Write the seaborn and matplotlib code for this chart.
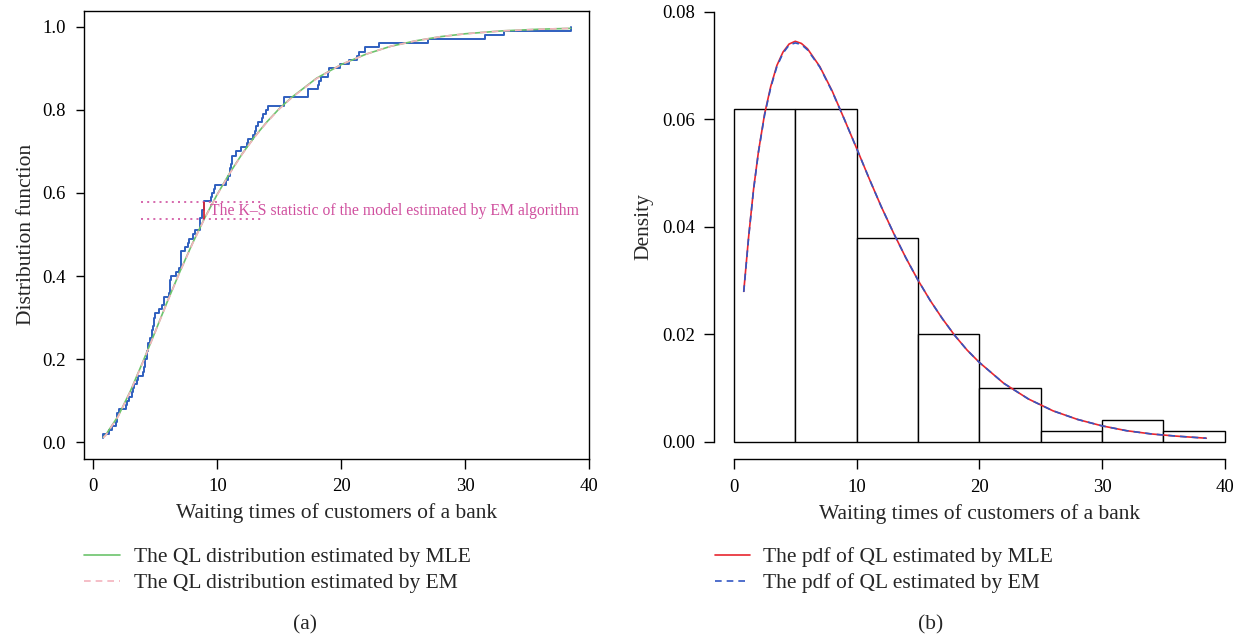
import numpy as np
import pandas as pd
import matplotlib
matplotlib.use("Agg")
import matplotlib.pyplot as plt
import seaborn as sns

# waiting times (min) of 100 bank customers
waiting_times = [0.8, 0.8, 1.3, 1.5, 1.8, 1.9, 1.9, 2.1, 2.6, 2.7, 2.9, 3.1, 3.2, 3.3, 3.5,
                 3.6, 4.0, 4.1, 4.2, 4.2, 4.3, 4.3, 4.4, 4.4, 4.6, 4.7, 4.7, 4.8, 4.9, 4.9,
                 5.0, 5.3, 5.5, 5.7, 5.7, 6.1, 6.2, 6.2, 6.2, 6.3, 6.7, 6.9, 7.1, 7.1, 7.1,
                 7.1, 7.4, 7.6, 7.7, 8.0, 8.2, 8.6, 8.6, 8.6, 8.8, 8.8, 8.9, 8.9, 9.5, 9.6,
                 9.7, 9.8, 10.7, 10.9, 11.0, 11.0, 11.1, 11.2, 11.2, 11.5, 11.9, 12.4, 12.5,
                 12.9, 13.0, 13.1, 13.3, 13.6, 13.7, 13.9, 14.1, 15.4, 15.4, 17.3, 17.3,
                 18.1, 18.2, 18.4, 18.9, 19.0, 19.9, 20.6, 21.3, 21.4, 21.9, 23.0, 27.0,
                 31.6, 33.1, 38.5]

# fitted QL distribution function
cdf_x = [0.8, 1, 2, 3, 4, 5, 6, 7, 8, 9, 10, 11, 12, 13, 14, 15, 16, 18, 20, 22, 24,
         26, 28, 30, 33, 36, 38.5]
cdf_mle = [0.012, 0.018, 0.063, 0.124, 0.194, 0.267, 0.341, 0.412, 0.479, 0.541, 0.597,
           0.648, 0.694, 0.735, 0.771, 0.803, 0.830, 0.876, 0.909, 0.934, 0.953, 0.966,
           0.976, 0.983, 0.990, 0.994, 0.996]
cdf_em = [0.011, 0.017, 0.062, 0.123, 0.193, 0.266, 0.340, 0.411, 0.478, 0.540, 0.596,
          0.647, 0.693, 0.734, 0.770, 0.802, 0.829, 0.875, 0.909, 0.934, 0.953, 0.966,
          0.976, 0.983, 0.990, 0.994, 0.996]

# K-S statistic marker
ks_x = 8.9
ks_low = 0.537
ks_high = 0.579
ks_span = [3.85, 13.7]

# histogram (density per bin)
bin_edges = [0, 5, 10, 15, 20, 25, 30, 35, 40]
bin_density = [0.062, 0.062, 0.038, 0.020, 0.010, 0.002, 0.004, 0.002]

# fitted QL pdf
pdf_x = [0.8, 1.2, 1.6, 2.0, 2.5, 3.0, 3.5, 4.0, 4.5, 5.0, 5.5, 6.0, 7, 8, 9, 10, 11, 12,
         13, 14, 15, 16, 17, 18, 19, 20, 22, 24, 26, 28, 30, 32, 34, 36, 38.5]
pdf_mle = [0.0280, 0.0382, 0.0470, 0.0540, 0.0610, 0.0661, 0.0700, 0.0725, 0.0740, 0.0745,
           0.0741, 0.0731, 0.0698, 0.0653, 0.0600, 0.0546, 0.0491, 0.0438, 0.0389, 0.0343,
           0.0301, 0.0263, 0.0229, 0.0198, 0.0171, 0.0148, 0.0109, 0.0080, 0.0058, 0.0042,
           0.0030, 0.0021, 0.0015, 0.0011, 0.0007]
pdf_em = [0.0279, 0.0381, 0.0469, 0.0539, 0.0608, 0.0659, 0.0698, 0.0723, 0.0738, 0.0742,
          0.0739, 0.0729, 0.0697, 0.0652, 0.0600, 0.0546, 0.0491, 0.0438, 0.0389, 0.0343,
          0.0301, 0.0263, 0.0229, 0.0198, 0.0171, 0.0148, 0.0109, 0.0080, 0.0058, 0.0042,
          0.0030, 0.0021, 0.0015, 0.0011, 0.0007]

sns.set_theme(style="ticks")
LFS = 15.5   # labels / legend
TFS = 13.5   # tick labels
plt.rcParams["font.family"] = ["Liberation Serif", "DejaVu Serif"]
plt.rcParams["font.size"] = LFS
plt.rcParams["xtick.labelsize"] = TFS
plt.rcParams["ytick.labelsize"] = TFS
plt.rcParams["axes.labelsize"] = LFS
plt.rcParams["legend.fontsize"] = LFS
plt.rcParams["axes.linewidth"] = 1.0
plt.rcParams["axes.edgecolor"] = "black"
for a in ["x", "y"]:
    plt.rcParams[a + "tick.major.size"] = 7
    plt.rcParams[a + "tick.major.width"] = 1.0
    plt.rcParams[a + "tick.color"] = "black"

W, H = 1241, 640
fig = plt.figure(figsize=(W / 100, H / 100), dpi=100)

# ---- panel (a): empirical vs fitted distribution function
ax1 = fig.add_axes([84.3 / W, 1 - 458.7 / H, 505 / W, 448 / H])
times_sorted = np.sort(np.array(waiting_times))
ecdf = pd.DataFrame({"x": times_sorted, "F": np.arange(1, len(times_sorted) + 1) / len(times_sorted)})
sns.lineplot(data=ecdf, x="x", y="F", estimator=None, drawstyle="steps-post",
             color="#2f5fbf", lw=1.4, ax=ax1)
sns.lineplot(x=cdf_x, y=cdf_mle, color="#6cc46c", lw=1.2, ax=ax1,
             label="The QL distribution estimated by MLE")
sns.lineplot(x=cdf_x, y=cdf_em, color="#f4b3bd", lw=1.2, ax=ax1,
             label="The QL distribution estimated by EM")
ax1.lines[-1].set_dashes((4, 3))

ax1.hlines([ks_high, ks_low], ks_span[0], ks_span[1], colors="#d0509f",
           linestyles=(0, (1.2, 2.5)), lw=1.2)
ax1.vlines(ks_x, ks_low, ks_high, colors="#d42a3a", lw=1.3)
ax1.text(9.4, 0.557,
         "The K\u2013S statistic of the model estimated by EM algorithm",
         color="#d0509f", va="center", ha="left", fontsize=11.3)

ax1.set_xlim(-0.73, 40)
ax1.set_ylim(-0.0395, 1.0385)
ax1.set_xticks([0, 10, 20, 30, 40])
ax1.set_yticks([0, 0.2, 0.4, 0.6, 0.8, 1.0])
ax1.set_yticklabels(["0.0", "0.2", "0.4", "0.6", "0.8", "1.0"])
ax1.tick_params(axis="x", pad=7)
ax1.tick_params(axis="y", pad=7.5, length=5.6)
ax1.set_xlabel("Waiting times of customers of a bank", labelpad=6)
ax1.set_ylabel("Distribution function", labelpad=5)
for s in ax1.spines.values():
    s.set_visible(True)
h, l = ax1.get_legend_handles_labels()
ax1.legend(h, l, loc="upper left", bbox_to_anchor=(84.3 / W, 1 - 547 / H),
           bbox_transform=fig.transFigure, frameon=False, borderpad=0, borderaxespad=0,
           handlelength=1.65, handletextpad=0.66, labelspacing=0.28)

# ---- panel (b): histogram with fitted pdf
ax2 = fig.add_axes([714.3 / W, 1 - 459.2 / H, 530 / W, 464.7 / H])
mids = [(bin_edges[i] + bin_edges[i + 1]) / 2 for i in range(len(bin_density))]
sns.histplot(x=mids, weights=bin_density, bins=bin_edges, stat="count",
             color="white", edgecolor="black", linewidth=1.0, alpha=1, ax=ax2)
sns.lineplot(x=pdf_x, y=pdf_mle, color="#e8262f", lw=1.2, ax=ax2,
             label="The pdf of QL estimated by MLE")
sns.lineplot(x=pdf_x, y=pdf_em, color="#3156c4", lw=1.2, ax=ax2,
             label="The pdf of QL estimated by EM")
ax2.lines[-1].set_dashes((4, 3))

ax2.set_xlim(-1.6, 41.6)
ax2.set_ylim(-0.0032, 0.0832)
ax2.set_xticks([0, 10, 20, 30, 40])
ax2.set_yticks([0, 0.02, 0.04, 0.06, 0.08])
ax2.set_yticklabels(["0.00", "0.02", "0.04", "0.06", "0.08"])
ax2.spines["top"].set_visible(False)
ax2.spines["right"].set_visible(False)
ax2.spines["left"].set_bounds(0, 0.08)
ax2.spines["bottom"].set_bounds(0, 40)
ax2.tick_params(axis="x", pad=7)
ax2.tick_params(axis="y", pad=7)
ax2.set_xlabel("Waiting times of customers of a bank", labelpad=6)
ax2.set_ylabel("Density", labelpad=6)
h, l = ax2.get_legend_handles_labels()
ax2.legend(h, l, loc="upper left", bbox_to_anchor=(714.5 / W, 1 - 547 / H),
           bbox_transform=fig.transFigure, frameon=False, borderpad=0, borderaxespad=0,
           handlelength=1.65, handletextpad=0.6, labelspacing=0.28)

fig.text(304.5 / W, 1 - 625 / H, "(a)", ha="center", va="center", fontsize=LFS)
fig.text(930.3 / W, 1 - 625 / H, "(b)", ha="center", va="center", fontsize=LFS)

fig.savefig("out.png", dpi=100)
